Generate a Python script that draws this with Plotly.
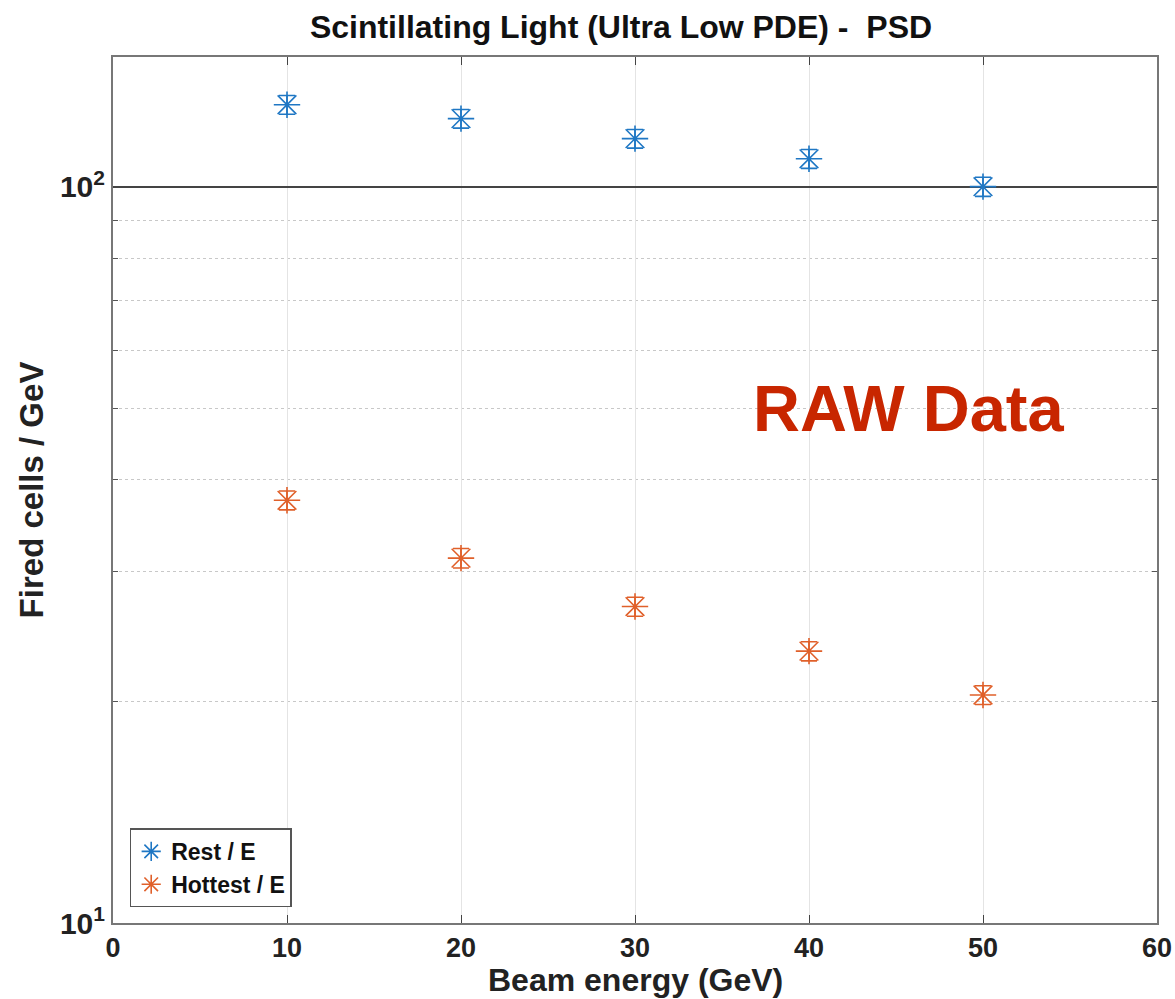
import plotly.graph_objects as go
import numpy as np

energy = [10, 20, 30, 40, 50]
rest = [129.2, 123.7, 116.2, 109.1, 100.0]
rest_err = [3.8, 3.6, 3.4, 3.2, 3.0]
hottest = [37.5, 31.3, 26.9, 23.4, 20.4]
hottest_err = [1.1, 0.95, 0.8, 0.7, 0.6]

blue = "#1f77c4"
orange = "#e0602a"
font_main = "Liberation Sans"

fig = go.Figure()
fig.add_trace(go.Scatter(
    x=energy, y=rest, mode="markers", name="<b>Rest / E</b>",
    marker=dict(symbol="asterisk-open", size=22, color=blue,
                line=dict(color=blue, width=1.6)),
    error_y=dict(type="data", array=rest_err, color=blue, thickness=1.6, width=8),
))
fig.add_trace(go.Scatter(
    x=energy, y=hottest, mode="markers", name="<b>Hottest / E</b>",
    marker=dict(symbol="asterisk-open", size=22, color=orange,
                line=dict(color=orange, width=1.6)),
    error_y=dict(type="data", array=hottest_err, color=orange, thickness=1.6, width=8),
))

fig.add_annotation(x=45.7, y=np.log10(50), xref="x", yref="y", text="<b>RAW Data</b>",
                   showarrow=False, font=dict(family=font_main, size=65, color="#c82600"))
fig.add_annotation(x=0.5, y=-0.066, xref="x domain", yref="y domain",
                   text="<b>Beam energy (GeV)</b>", showarrow=False, yanchor="middle",
                   font=dict(family=font_main, size=32, color="#222"))

fig.update_layout(
    width=1175, height=999,
    margin=dict(l=113, r=18, t=57, b=76, autoexpand=False),
    paper_bgcolor="white", plot_bgcolor="white",
    title=dict(text="<b>Scintillating Light (Ultra Low PDE) -  PSD</b>", x=0.5285, xanchor="center",
               y=0.973, yanchor="middle", font=dict(family=font_main, size=32, color="#111")),
    font=dict(family=font_main, color="#222"),
    showlegend=True,
    legend=dict(x=0.016, y=0.018, xanchor="left", yanchor="bottom",
                bgcolor="white", bordercolor="#555", borderwidth=1.5,
                font=dict(family=font_main, size=23, color="#111"),
                itemwidth=30, tracegroupgap=0),
)

fig.update_xaxes(
    range=[0, 60], tickvals=[0, 10, 20, 30, 40, 50, 60],
    ticktext=["<b>%d</b>" % v for v in [0, 10, 20, 30, 40, 50, 60]],
    tickfont=dict(size=27, color="#222"), automargin=False,
    showline=True, linecolor="#777", linewidth=2, mirror="ticks",
    ticks="inside", ticklen=8, tickcolor="#444", tickwidth=1.2,
    showgrid=True, gridcolor="#e4e4e4", gridwidth=1.2, zeroline=False,
)
fig.update_yaxes(
    type="log", range=[1, np.log10(150)],
    tickvals=[10, 100], ticktext=["<b>10<sup>1</sup></b>", "<b>10<sup>2</sup></b>"],
    tickfont=dict(size=30, color="#222"), automargin=False,
    showline=True, linecolor="#777", linewidth=2, mirror="ticks",
    ticks="inside", ticklen=8, tickcolor="#444", tickwidth=1.2,
    showgrid=True, gridcolor="#444", gridwidth=1.8, zeroline=False,
    minor=dict(tickvals=[20, 30, 40, 50, 60, 70, 80, 90], ticks="inside", ticklen=5,
               tickcolor="#555", showgrid=True, gridcolor="#c8c8c8", griddash="dot", gridwidth=1.2),
    title=dict(text="<b>Fired cells / GeV</b>", font=dict(size=33, color="#222"), standoff=6),
)

fig.write_html("out.html")
